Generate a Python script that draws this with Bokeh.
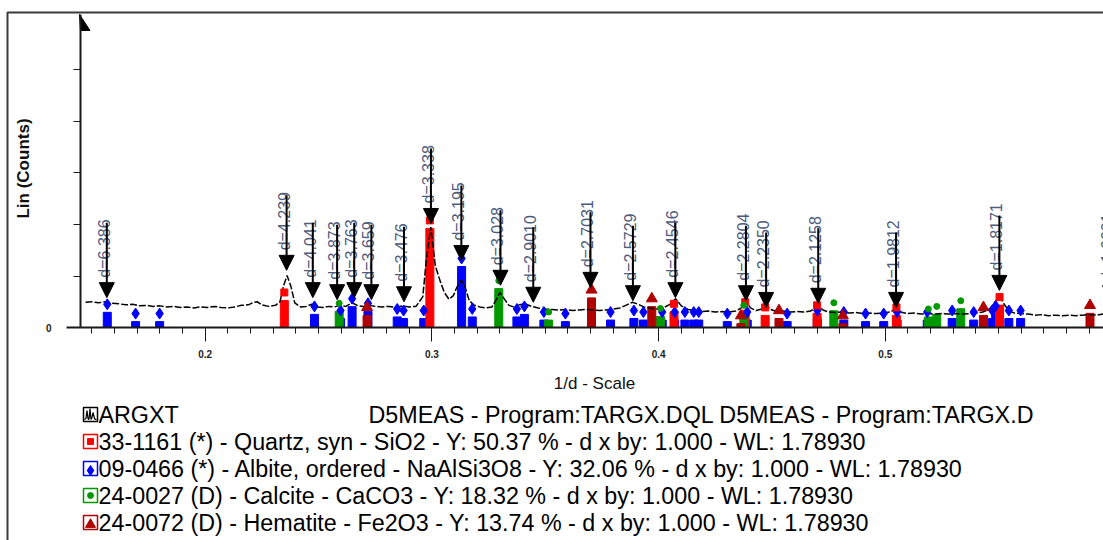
import math
from bokeh.plotting import figure
from bokeh.models import (LinearAxis, FixedTicker, SingleIntervalTicker, Range1d,
                          ColumnDataSource, Arrow, NormalHead, Label)
from bokeh.core.properties import value
from bokeh.embed import file_html
from bokeh.resources import INLINE

# ---------------- data ----------------
# measured pattern (1/d, counts)
profile_x = [0.1472, 0.150, 0.153, 0.156, 0.159, 0.162, 0.165, 0.168, 0.171, 0.174, 0.177, 0.180,
             0.183, 0.186, 0.189, 0.192, 0.195, 0.198, 0.201, 0.204, 0.207, 0.210, 0.213, 0.216,
             0.219, 0.2215, 0.2229, 0.225, 0.228, 0.231, 0.2330, 0.2345, 0.2361, 0.2378, 0.2395,
             0.2420, 0.2445, 0.2470, 0.2495, 0.2520, 0.2545, 0.2570, 0.2595, 0.2620, 0.2648, 0.2675,
             0.2700, 0.2725, 0.2750, 0.2780, 0.2810, 0.2840, 0.2870, 0.2900, 0.2930, 0.2960, 0.2975,
             0.2995, 0.3015, 0.3035, 0.3055, 0.3075, 0.3095, 0.3110, 0.3130, 0.3145, 0.3165, 0.3185,
             0.3210, 0.3240, 0.3265, 0.3285, 0.3300, 0.3320, 0.3340, 0.3360, 0.3385, 0.3410, 0.3440,
             0.3470, 0.3500, 0.3530, 0.3560, 0.3590, 0.3620, 0.3650, 0.3680, 0.3710, 0.3740, 0.3770,
             0.3800, 0.3830, 0.3860, 0.3885, 0.3910, 0.3935, 0.3960, 0.3990, 0.4020, 0.4050, 0.4075,
             0.4100, 0.4130, 0.4160, 0.4190, 0.4220, 0.4250, 0.4280, 0.4310, 0.4340, 0.4365, 0.4385,
             0.4405, 0.4430, 0.4455, 0.4475, 0.4495, 0.4520, 0.4550, 0.4580, 0.4610, 0.4640, 0.4670,
             0.4690, 0.4705, 0.4725, 0.4750, 0.4780, 0.4810, 0.4840, 0.4870, 0.4900, 0.4930, 0.4960,
             0.4990, 0.5020, 0.5047, 0.5075, 0.5100, 0.5130, 0.5160, 0.5190, 0.5220, 0.5250, 0.5280,
             0.5310, 0.5340, 0.5370, 0.5400, 0.5430, 0.5460, 0.5485, 0.5503, 0.5520, 0.5545, 0.5570,
             0.5600, 0.5630, 0.5660, 0.5690, 0.5720, 0.5750, 0.5780, 0.5810, 0.5840, 0.5870, 0.5900,
             0.5930, 0.5960, 0.5990]
profile_y = [49, 50, 48, 50, 47, 46, 44, 45, 42, 43, 41, 42,
             40, 41, 39, 40, 38, 40, 39, 41, 39, 38, 40, 43,
             44, 49, 50, 44, 41, 43, 50, 80, 101, 80, 48,
             40, 41, 45, 40, 39, 41, 40, 43, 41, 48, 42,
             41, 43, 41, 40, 41, 39, 42, 40, 41, 60, 130,
             195, 120, 92, 68, 55, 62, 78, 92, 80, 52, 44,
             40, 38, 40, 55, 68, 55, 43, 40, 44, 46, 41,
             38, 36, 35, 34, 35, 33, 34, 35, 34, 33, 34,
             36, 38, 44, 49, 45, 40, 38, 36, 38, 45, 56,
             42, 35, 33, 31, 32, 30, 31, 30, 32, 38, 52,
             38, 33, 36, 43, 35, 31, 32, 30, 31, 30, 32,
             37, 43, 34, 30, 29, 30, 28, 29, 27, 28, 27,
             28, 30, 36, 29, 27, 28, 26, 27, 26, 27, 26,
             27, 26, 27, 28, 30, 36, 50, 62, 48, 32, 28,
             27, 26, 24, 25, 23, 24, 23, 24, 23, 24, 25,
             24, 26, 30]

# reference patterns (1/d position, intensity in counts)
quartz_x = [0.2349, 0.2991, 0.4068, 0.4382, 0.4470, 0.4699, 0.5049, 0.5504, 0.5981]
quartz_h = [68, 208, 46, 49, 39, 43, 39, 59, 50]

albite_x = [0.1568, 0.1693, 0.1799, 0.2482, 0.2597, 0.2648, 0.2718, 0.2847, 0.2875, 0.2964,
            0.3131, 0.3178, 0.3375, 0.3408, 0.3494, 0.3589, 0.3788, 0.3891, 0.3933, 0.4016,
            0.4071, 0.4116, 0.4155, 0.4177, 0.4303, 0.4391, 0.4567, 0.4700, 0.4817, 0.4913,
            0.4993, 0.5052, 0.5185, 0.5295, 0.5390, 0.5472, 0.5487, 0.5545, 0.5597]
albite_h = [45, 27, 27, 41, 33, 56, 47, 36, 33, 33,
            134, 36, 36, 41, 30, 27, 30, 33, 30, 30,
            30, 30, 30, 30, 27, 30, 27, 33, 30, 27,
            27, 30, 30, 33, 30, 33, 42, 33, 33]

calcite_x = [0.2591, 0.3295, 0.3515, 0.4008, 0.4376, 0.4773, 0.5190, 0.5227, 0.5333]
calcite_h = [47, 91, 30, 37, 43, 48, 36, 41, 52]

hematite_x = [0.2714, 0.3704, 0.3970, 0.4363, 0.4531, 0.4813, 0.5433, 0.5903]
hematite_h = [39, 73, 56, 23, 33, 23, 39, 43]

# marked peaks (d-spacing, arrow tip height in counts)
peak_d = ["6.386", "4.239", "4.041", "3.873", "3.763", "3.659", "3.476", "3.338", "3.195", "3.028",
          "2.9010", "2.7031", "2.5729", "2.4546", "2.2804", "2.2350", "2.1258", "1.9812", "1.8171", "1.6691"]
peak_tip = [58, 111, 58, 54, 58, 54, 50, 202, 130, 82, 49, 78, 52, 58, 52, 39, 47, 39, 72, 52]

legend_rows = [
    "ARGXT",
    "33-1161 (*) - Quartz, syn - SiO2 - Y: 50.37 % - d x by: 1.000 - WL: 1.78930",
    "09-0466 (*) - Albite, ordered - NaAlSi3O8 - Y: 32.06 % - d x by: 1.000 - WL: 1.78930",
    "24-0027 (D) - Calcite - CaCO3 - Y: 18.32 % - d x by: 1.000 - WL: 1.78930",
    "24-0072 (D) - Hematite - Fe2O3 - Y: 13.74 % - d x by: 1.000 - WL: 1.78930",
]
legend_extra = "D5MEAS - Program:TARGX.DQL  D5MEAS - Program:TARGX.D"
x_ticks_step = 0.1
y_ticks = [0, 100, 200, 300, 400, 500]

# ---------------- layout helpers ----------------
W, H = 1103, 540
X0, X1 = 0.109704, 0.596251
Y0, Y1 = -413.59, 634.95
PXX = (X1 - X0) / W
PXY = (Y1 - Y0) / H


def dx(px):  # picture pixel -> data x
    return X0 + px * PXX


def dy(py):  # picture pixel -> data y
    return Y1 - py * PXY


FONT = value("Liberation Sans")
p = figure(width=W, height=H, x_range=Range1d(X0, X1), y_range=Range1d(Y0, Y1),
           x_axis_type=None, y_axis_type=None, toolbar_location=None,
           output_backend="svg", min_border=0)
p.outline_line_color = None
p.background_fill_color = "white"

# page frame
p.line([dx(7), dx(7), X1 + 0.01], [Y0 - 10, dy(12), dy(12)], line_color="#3a3a3a", line_width=2)

# axes
xa = LinearAxis(fixed_location=0, bounds=(0.145, 0.7),
                ticker=SingleIntervalTicker(interval=x_ticks_step, num_minor_ticks=10))
xa.axis_line_color = "#1a1a1a"
xa.axis_line_width = 2
xa.major_tick_in = 0
xa.major_tick_out = 14
xa.minor_tick_in = 0
xa.minor_tick_out = 6
xa.major_tick_line_color = "#1a1a1a"
xa.minor_tick_line_color = "#1a1a1a"
xa.major_label_standoff = 8
xa.major_label_text_font = "Liberation Sans"
xa.major_label_text_font_size = "10px"
xa.major_label_text_font_style = "bold"
xa.major_label_text_color = "#222222"
p.add_layout(xa, "below")
p.segment(x0=[dx(66)], y0=[0], x1=[0.145], y1=[0], line_color="#1a1a1a", line_width=2)

ya = LinearAxis(fixed_location=0.145, bounds=(0, dy(14)), ticker=FixedTicker(ticks=y_ticks))
ya.axis_line_color = "#1a1a1a"
ya.axis_line_width = 2
ya.major_tick_in = 0
ya.major_tick_out = 7
ya.major_tick_line_color = "#1a1a1a"
ya.major_label_overrides = {t: "" for t in y_ticks if t != 0}
ya.major_label_standoff = 22
ya.major_label_text_font = "Liberation Sans"
ya.major_label_text_font_size = "10px"
ya.major_label_text_font_style = "bold"
ya.major_label_text_color = "#2a2010"
p.add_layout(ya, "left")
p.patch([dx(79), dx(80), dx(89.5)], [dy(14), dy(30), dy(30)], color="black")

p.add_layout(Label(x=dx(23), y=dy(168), text="Lin (Counts)", angle=math.pi / 2,
                   text_align="center", text_baseline="middle", text_font="Liberation Sans",
                   text_font_size="17px", text_font_style="bold", text_color="#111111"))
p.add_layout(Label(x=dx(594), y=dy(383), text="1/d - Scale", text_align="center",
                   text_baseline="middle", text_font="Liberation Sans", text_font_size="17px",
                   text_color="#111111"))

# reference sticks
BAR_W = 8 * PXX
GAP = 8 * PXY
phases = [
    (albite_x, albite_h, "#0000ff", "diamond", 11),
    (quartz_x, quartz_h, "#ff0000", "square", 7),
    (calcite_x, calcite_h, "#009a00", "circle", 6),
    (hematite_x, hematite_h, "#b00000", "triangle", 11),
]
for xs, hs, col, mk, sz in phases:
    p.vbar(x=xs, top=[h - GAP for h in hs], bottom=0, width=BAR_W, color=col)

p.line(profile_x, profile_y, line_color="black", line_width=1.5, line_dash="7 2")

for xs, hs, col, mk, sz in phases:
    p.scatter(x=xs, y=hs, marker=mk, size=sz, color=col)

# peak arrows and labels
pk = ColumnDataSource(dict(
    x=[1.0 / float(d) for d in peak_d],
    tip=peak_tip,
    top=[t + 75 * PXY for t in peak_tip],
    label=["d=" + d for d in peak_d],
))
p.add_layout(Arrow(end=NormalHead(size=15, fill_color="black", line_color="black"),
                   x_start="x", y_start="top", x_end="x", y_end="tip", source=pk,
                   line_width=2, line_color="black"))
p.text(x="x", y="tip", text="label", source=pk, angle=math.pi / 2, text_align="left",
       text_baseline="alphabetic", x_offset=-2.5, y_offset=-20, text_font=FONT,
       text_font_size="16px", text_color="#4d5b7c")

# legend
row_py = [414, 441, 468, 495, 522]
row_y = [dy(v) for v in row_py]
p.text(x=[dx(98)] * len(legend_rows), y=row_y, text=legend_rows, text_baseline="middle",
       text_align="left", text_font=FONT, text_font_size="23.3px", text_color="black")
p.text(x=[dx(368)], y=[row_y[0]], text=[legend_extra], text_baseline="middle",
       text_align="left", text_font=FONT, text_font_size="23.3px", text_color="black")
icon_cols = ["black", "#ff0000", "#0000ff", "#009a00", "#b00000"]
p.rect(x=[dx(90)] * 5, y=row_y, width=14, height=14, width_units="screen", height_units="screen",
       fill_color="white", line_color=icon_cols, line_width=1.5)
p.scatter(x=[dx(90)], y=[row_y[1]], marker="square", size=6, color="#ff0000")
p.scatter(x=[dx(90)], y=[dy(470)], marker="diamond", size=10, color="#0000ff")
p.scatter(x=[dx(90)], y=[row_y[3]], marker="circle", size=6, color="#009a00")
p.scatter(x=[dx(90)], y=[dy(524)], marker="triangle", size=10, color="#b00000")
p.line([dx(px) for px in [84, 85.5, 86.5, 87.5, 88.5, 89.5, 90.5, 91.5, 92.5, 94, 95, 96]],
       [dy(py) for py in [419, 418, 410, 418, 419, 408, 419, 417, 412, 418, 419, 419]],
       line_color="black", line_width=1.2)

open("out.html", "w").write(file_html(p, INLINE))
